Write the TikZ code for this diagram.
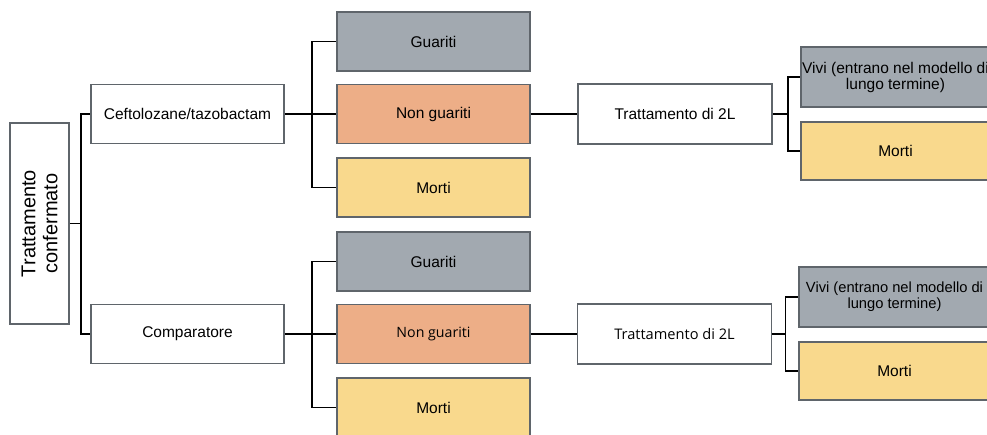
\documentclass[tikz,border=0pt]{standalone}
\usepackage{fontspec}
\setmainfont{Liberation Sans}
\newfontfamily\altfont{Open Sans}
\definecolor{gfill}{HTML}{A2A9B0}
\definecolor{ofill}{HTML}{EDAE87}
\definecolor{yfill}{HTML}{F9D98D}
\definecolor{bord}{HTML}{5F656B}
\begin{document}
\begin{tikzpicture}[x=1pt,y=-1pt,
  box/.style={draw=bord,line width=1.5pt,minimum width=193pt,minimum height=59pt,inner sep=0pt,font=\fontsize{15.5}{17}\selectfont,align=center},
  wbox/.style={box,fill=white},
  gbox/.style={box,fill=gfill},
  obox/.style={box,fill=ofill},
  ybox/.style={box,fill=yfill},
  conn/.style={draw=black,line width=1.5pt}]
\useasboundingbox (0,0) rectangle (987,435);
\fill[white] (0,0) rectangle (987,435);
% root
\node[wbox,minimum width=59pt,minimum height=201pt] (root) at (39.5,223.5) {};
\node[rotate=90,font=\fontsize{20}{22}\selectfont,align=center] (roottxt) at (root.center) {Trattamento\\confermato};
% level 1
\node[wbox] (ceft) at (187.5,114) {Ceftolozane/tazobactam};
\node[wbox] (comp) at (187.5,334) {Comparatore};
% level 2 top
\node[gbox] (g1) at (433.5,41.5) {Guariti};
\node[obox] (n1) at (433.5,114) {Non guariti};
\node[ybox] (m1) at (433.5,187.5) {Morti};
% level 2 bottom
\node[gbox] (g2) at (433.5,261.5) {Guariti};
\node[obox,font=\altfont\fontsize{14.2}{17}\selectfont] (n2) at (433.5,334) {Non guariti};
\node[ybox] (m2) at (433.5,407.5) {Morti};
% second line
\node[wbox,minimum width=194pt,minimum height=60pt] (t1) at (675,114) {Trattamento di 2L};
\node[wbox,minimum width=194pt,minimum height=60pt,font=\altfont\fontsize{14.6}{17}\selectfont] (t2) at (674.5,334) {Trattamento di 2L};
% outcomes
\node[gbox,minimum width=189pt,minimum height=60pt,font=\fontsize{15.5}{16}\selectfont] (v1) at (895.5,77) {Vivi (entrano nel modello di\\lungo termine)};
\node[ybox,minimum width=189pt,minimum height=58pt] (d1) at (895.5,151) {Morti};
\node[gbox,minimum width=191pt,minimum height=60pt,font=\fontsize{14.7}{16}\selectfont] (v2) at (894.5,297) {Vivi (entrano nel modello di\\lungo termine)};
\node[ybox,minimum width=191pt,minimum height=58pt] (d2) at (894.5,371) {Morti};
% connectors
\draw[conn] (root.east) -- ++(11,0) coordinate (j0) |- (ceft.west);
\draw[conn] (j0) |- (comp.west);
\draw[conn] (ceft.east) -- ++(27,0) coordinate (j1) |- (g1.west);
\draw[conn] (j1) |- (m1.west);
\draw[conn] (j1) -- (n1.west);
\draw[conn] (comp.east) -- ++(27,0) coordinate (j2) |- (g2.west);
\draw[conn] (j2) |- (m2.west);
\draw[conn] (j2) -- (n2.west);
\draw[conn] (n1.east) -- (t1.west);
\draw[conn] (n2.east) -- (t2.west);
\draw[conn] (t1.east) -- ++(15,0) coordinate (j3) |- (v1.west);
\draw[conn] (j3) |- (d1.west);
\draw[conn] (t2.east) -- ++(13,0) coordinate (j4) |- (v2.west);
\draw[conn] (j4) |- (d2.west);
\end{tikzpicture}
\end{document}
